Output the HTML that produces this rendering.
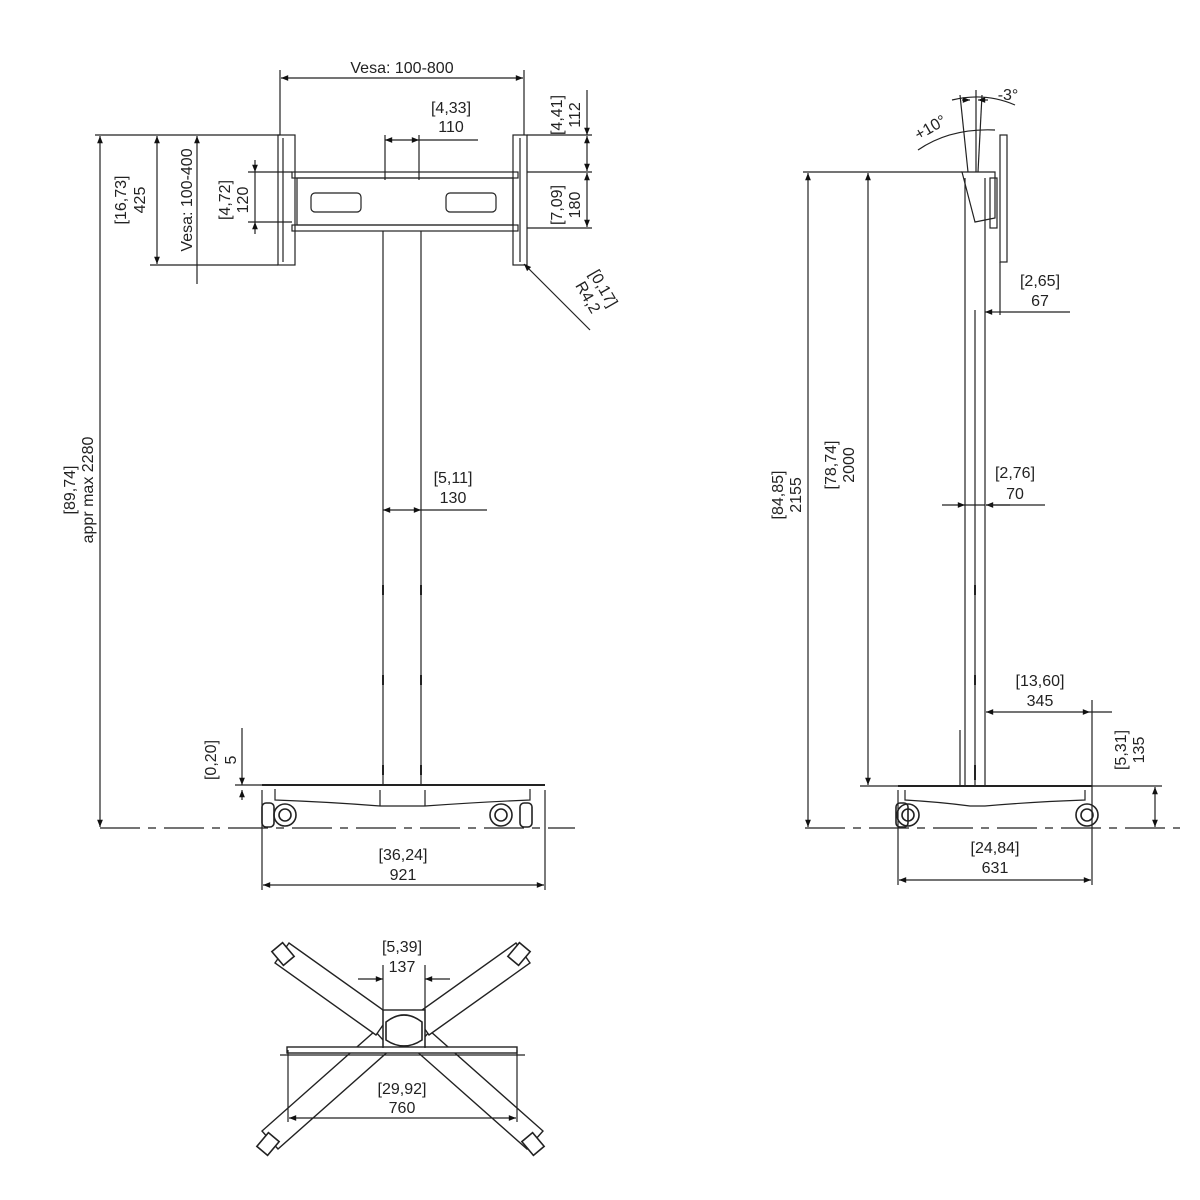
<!DOCTYPE html>
<html><head><meta charset="utf-8"><style>
html,body{margin:0;padding:0;background:#fff;}
svg{display:block;}
text{font-family:"Liberation Sans",sans-serif;font-size:16px;fill:#222;}
</style></head><body>
<svg width="1200" height="1200" viewBox="0 0 1200 1200" xmlns="http://www.w3.org/2000/svg">
<defs>
<marker id="a" viewBox="0 0 10 10" refX="10" refY="5" markerWidth="8" markerHeight="6" orient="auto-start-reverse"><path d="M0,1 L10,5 L0,9z" fill="#111"/></marker>
</defs>
<g stroke="#222" fill="none" stroke-width="1.2">
<!-- ===== FRONT VIEW ===== -->
<line x1="280" y1="70" x2="280" y2="135"/><line x1="524" y1="70" x2="524" y2="135"/>
<line x1="281" y1="78" x2="523" y2="78" marker-start="url(#a)" marker-end="url(#a)"/>
<rect x="278" y="135" width="17" height="130"/><rect x="513" y="135" width="14" height="130"/>
<line x1="283" y1="138" x2="283" y2="262"/><line x1="520" y1="138" x2="520" y2="262"/>
<rect x="292" y="172" width="226" height="6"/>
<rect x="292" y="225" width="226" height="6"/>
<rect x="297" y="178" width="216" height="47"/>
<rect x="311" y="193" width="50" height="19" rx="4"/>
<rect x="446" y="193" width="50" height="19" rx="4"/>
<line x1="383" y1="231" x2="383" y2="785"/><line x1="421" y1="231" x2="421" y2="785"/>
<g stroke-width="2"><line x1="383" y1="585" x2="383" y2="595"/><line x1="421" y1="585" x2="421" y2="595"/><line x1="383" y1="675" x2="383" y2="685"/><line x1="421" y1="675" x2="421" y2="685"/><line x1="383" y1="765" x2="383" y2="775"/><line x1="421" y1="765" x2="421" y2="775"/></g>
<line x1="262" y1="785" x2="545" y2="785" stroke-width="2"/>
<path d="M275,789 L275,800 Q330,802 380,806 L425,806 Q480,802 530,800 L530,789"/>
<line x1="380" y1="790" x2="380" y2="806"/><line x1="425" y1="790" x2="425" y2="806"/>
<g stroke-width="1.6"><circle cx="285" cy="815" r="11"/><circle cx="285" cy="815" r="6"/><circle cx="501" cy="815" r="11"/><circle cx="501" cy="815" r="6"/>
<rect x="262" y="803" width="12" height="24" rx="4"/><rect x="520" y="803" width="12" height="24" rx="4"/></g>
<line x1="100" y1="828" x2="575" y2="828" stroke-dasharray="40,8,8,8"/>
<line x1="95" y1="135" x2="280" y2="135"/>
<line x1="100" y1="136" x2="100" y2="827" marker-start="url(#a)" marker-end="url(#a)"/>
<line x1="150" y1="265" x2="278" y2="265"/>
<line x1="157" y1="136" x2="157" y2="264" marker-start="url(#a)" marker-end="url(#a)"/>
<line x1="197" y1="136" x2="197" y2="284" marker-start="url(#a)"/>
<line x1="248" y1="172" x2="292" y2="172"/><line x1="248" y1="222" x2="292" y2="222"/>
<line x1="255" y1="160" x2="255" y2="172" marker-end="url(#a)"/><line x1="255" y1="234" x2="255" y2="222" marker-end="url(#a)"/><line x1="255" y1="172" x2="255" y2="222"/>
<line x1="385" y1="135" x2="385" y2="180"/><line x1="419" y1="135" x2="419" y2="180"/>
<line x1="385" y1="140" x2="419" y2="140" marker-start="url(#a)" marker-end="url(#a)"/>
<line x1="419" y1="140" x2="478" y2="140"/>
<line x1="527" y1="135" x2="592" y2="135"/><line x1="527" y1="172" x2="592" y2="172"/><line x1="527" y1="228" x2="592" y2="228"/>
<line x1="587" y1="90" x2="587" y2="135" marker-end="url(#a)"/><line x1="587" y1="136" x2="587" y2="171" marker-start="url(#a)" marker-end="url(#a)"/>
<line x1="587" y1="173" x2="587" y2="227" marker-start="url(#a)" marker-end="url(#a)"/>
<line x1="590" y1="330" x2="524" y2="264" marker-end="url(#a)"/>
<line x1="383" y1="510" x2="421" y2="510" marker-start="url(#a)" marker-end="url(#a)"/><line x1="421" y1="510" x2="487" y2="510"/>
<line x1="235" y1="785" x2="262" y2="785"/>
<line x1="242" y1="728" x2="242" y2="785" marker-end="url(#a)"/><line x1="242" y1="800" x2="242" y2="790" marker-end="url(#a)"/>
<line x1="262" y1="790" x2="262" y2="890"/><line x1="545" y1="790" x2="545" y2="890"/>
<line x1="263" y1="885" x2="544" y2="885" marker-start="url(#a)" marker-end="url(#a)"/>

<!-- ===== SIDE VIEW ===== -->
<line x1="965" y1="178" x2="965" y2="786"/><line x1="985" y1="178" x2="985" y2="786"/><line x1="975" y1="310" x2="975" y2="786"/>
<rect x="1000" y="135" width="7" height="127"/>
<path d="M962,172 L995,172 L995,218 L975,222 Z"/><rect x="990" y="178" width="7" height="50"/>
<g stroke-width="2"><line x1="975" y1="585" x2="975" y2="595"/><line x1="975" y1="675" x2="975" y2="685"/><line x1="975" y1="765" x2="975" y2="780"/></g>
<line x1="960" y1="730" x2="960" y2="786"/>
<line x1="898" y1="786" x2="1092" y2="786" stroke-width="2"/>
<path d="M905,790 L905,800 Q940,802 970,806 L985,806 Q1030,802 1085,800 L1085,790"/>
<g stroke-width="1.6"><circle cx="1087" cy="815" r="11"/><circle cx="1087" cy="815" r="6"/><circle cx="908" cy="815" r="11"/><circle cx="908" cy="815" r="6"/><rect x="896" y="803" width="12" height="24" rx="4"/></g>
<line x1="805" y1="828" x2="1180" y2="828" stroke-dasharray="40,8,8,8"/>
<line x1="803" y1="172" x2="962" y2="172"/>
<line x1="808" y1="173" x2="808" y2="827" marker-start="url(#a)" marker-end="url(#a)"/>
<line x1="860" y1="786" x2="898" y2="786"/>
<line x1="868" y1="173" x2="868" y2="785" marker-start="url(#a)" marker-end="url(#a)"/>
<line x1="968" y1="172" x2="960" y2="95"/><line x1="976" y1="172" x2="976" y2="90"/><line x1="978" y1="172" x2="982" y2="95"/>
<path d="M918,150 Q950,128 995,130"/><path d="M952,100 Q985,92 1015,105"/>
<line x1="988" y1="100" x2="978" y2="100" marker-end="url(#a)"/><line x1="962" y1="100" x2="970" y2="100" marker-end="url(#a)"/>
<line x1="985" y1="312" x2="1000" y2="312" marker-start="url(#a)"/><line x1="1000" y1="312" x2="1070" y2="312"/><line x1="1000" y1="262" x2="1000" y2="315"/>
<line x1="942" y1="505" x2="965" y2="505" marker-end="url(#a)"/><line x1="965" y1="505" x2="985" y2="505"/><line x1="1010" y1="505" x2="986" y2="505" marker-end="url(#a)"/><line x1="986" y1="505" x2="1045" y2="505"/>
<line x1="986" y1="712" x2="1090" y2="712" marker-start="url(#a)" marker-end="url(#a)"/><line x1="1090" y1="712" x2="1112" y2="712"/>
<line x1="1092" y1="700" x2="1092" y2="885"/><line x1="898" y1="790" x2="898" y2="885"/>
<line x1="1092" y1="786" x2="1162" y2="786"/>
<line x1="1155" y1="787" x2="1155" y2="827" marker-start="url(#a)" marker-end="url(#a)"/>
<line x1="899" y1="880" x2="1091" y2="880" marker-start="url(#a)" marker-end="url(#a)"/>

<!-- ===== BOTTOM VIEW ===== -->
<g fill="#fff" stroke-width="1.4">
<polygon points="262,1131 278,1149 391,1049 375,1031"/>
<polygon points="543,1131 527,1149 414,1049 430,1031"/>
<polygon points="289,943 275,963 376,1035 390,1015"/>
<polygon points="516,943 530,963 429,1035 415,1015"/>
<rect x="383" y="1010" width="42" height="38"/>
<rect x="287" y="1047" width="230" height="6"/>
</g>
<path d="M386,1022 Q404,1008 422,1022 L422,1040 Q404,1052 386,1040 Z" stroke-width="1.6"/>
<line x1="383" y1="965" x2="383" y2="1048"/><line x1="425" y1="965" x2="425" y2="1048"/>
<line x1="358" y1="979" x2="383" y2="979" marker-end="url(#a)"/><line x1="450" y1="979" x2="425" y2="979" marker-end="url(#a)"/>
<line x1="280" y1="1055" x2="525" y2="1055"/>
<line x1="288" y1="1050" x2="288" y2="1122"/><line x1="517" y1="1050" x2="517" y2="1122"/>
<line x1="289" y1="1118" x2="516" y2="1118" marker-start="url(#a)" marker-end="url(#a)"/>
<g stroke-width="1.6" fill="#fff"><rect x="276" y="945" width="14" height="18" transform="rotate(-40 283 954)"/><rect x="512" y="945" width="14" height="18" transform="rotate(40 519 954)"/><rect x="261" y="1135" width="14" height="18" transform="rotate(40 268 1144)"/><rect x="526" y="1135" width="14" height="18" transform="rotate(-40 533 1144)"/></g>
</g>

<!-- TEXT -->
<text x="402" y="73" text-anchor="middle">Vesa: 100-800</text>
<text x="451" y="113" text-anchor="middle">[4,33]</text><text x="451" y="132" text-anchor="middle">110</text>
<g transform="translate(140,200) rotate(-90)"><text x="0" y="-14" text-anchor="middle">[16,73]</text><text x="0" y="5" text-anchor="middle">425</text></g>
<g transform="translate(192,200) rotate(-90)"><text x="0" y="0" text-anchor="middle">Vesa: 100-400</text></g>
<g transform="translate(240,200) rotate(-90)"><text x="0" y="-10" text-anchor="middle">[4,72]</text><text x="0" y="8" text-anchor="middle">120</text></g>
<g transform="translate(572,115) rotate(-90)"><text x="0" y="-10" text-anchor="middle">[4,41]</text><text x="0" y="8" text-anchor="middle">112</text></g>
<g transform="translate(572,205) rotate(-90)"><text x="0" y="-10" text-anchor="middle">[7,09]</text><text x="0" y="8" text-anchor="middle">180</text></g>
<g transform="translate(592,295) rotate(60)"><text x="0" y="-8" text-anchor="middle">[0,17]</text><text x="0" y="10" text-anchor="middle">R4,2</text></g>
<g transform="translate(85,490) rotate(-90)"><text x="0" y="-10" text-anchor="middle">[89,74]</text><text x="0" y="8" text-anchor="middle">appr max  2280</text></g>
<text x="453" y="483" text-anchor="middle">[5,11]</text><text x="453" y="503" text-anchor="middle">130</text>
<g transform="translate(222,760) rotate(-90)"><text x="0" y="-6" text-anchor="middle">[0,20]</text><text x="0" y="14" text-anchor="middle">5</text></g>
<text x="403" y="860" text-anchor="middle">[36,24]</text><text x="403" y="880" text-anchor="middle">921</text>
<g transform="translate(793,495) rotate(-90)"><text x="0" y="-10" text-anchor="middle">[84,85]</text><text x="0" y="8" text-anchor="middle">2155</text></g>
<g transform="translate(846,465) rotate(-90)"><text x="0" y="-10" text-anchor="middle">[78,74]</text><text x="0" y="8" text-anchor="middle">2000</text></g>
<text x="1040" y="286" text-anchor="middle">[2,65]</text><text x="1040" y="306" text-anchor="middle">67</text>
<text x="1015" y="478" text-anchor="middle">[2,76]</text><text x="1015" y="499" text-anchor="middle">70</text>
<text x="1040" y="686" text-anchor="middle">[13,60]</text><text x="1040" y="706" text-anchor="middle">345</text>
<g transform="translate(1130,750) rotate(-90)"><text x="0" y="-4" text-anchor="middle">[5,31]</text><text x="0" y="14" text-anchor="middle">135</text></g>
<text x="995" y="853" text-anchor="middle">[24,84]</text><text x="995" y="873" text-anchor="middle">631</text>
<g transform="translate(933,132) rotate(-30)"><text x="0" y="0" text-anchor="middle">+10°</text></g>
<text x="1008" y="100" text-anchor="middle">-3°</text>
<text x="402" y="952" text-anchor="middle">[5,39]</text><text x="402" y="972" text-anchor="middle">137</text>
<text x="402" y="1094" text-anchor="middle">[29,92]</text><text x="402" y="1113" text-anchor="middle">760</text>
</svg>
</body></html>
